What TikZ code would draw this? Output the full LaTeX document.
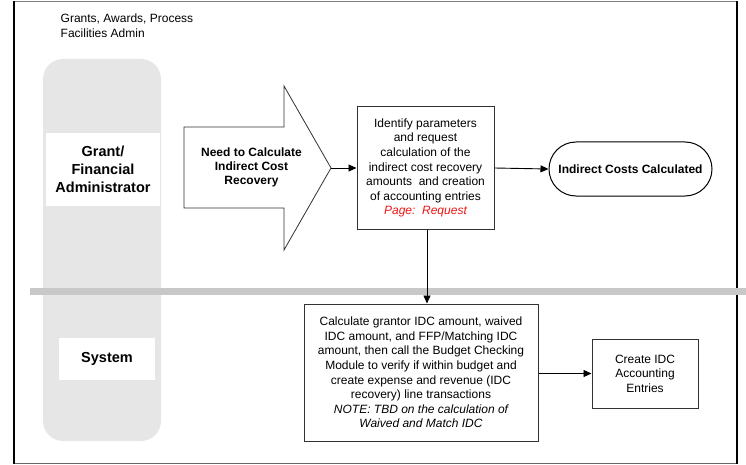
\documentclass[tikz,border=0pt]{standalone}
\usepackage{fontspec}
\setmainfont{Liberation Sans}
\usetikzlibrary{arrows.meta}
\definecolor{lanefill}{RGB}{230,230,230}
\definecolor{bandgray}{RGB}{200,200,200}
\definecolor{boxline}{RGB}{50,50,50}
\definecolor{pagered}{RGB}{240,20,20}
\begin{document}
\begin{tikzpicture}[x=1pt,y=-1pt,
  txt/.style={font=\fontsize{12}{14.6}\selectfont, align=center, inner sep=0pt},
  laneLabel/.style={fill=white, font=\fontsize{14.5}{18.3}\selectfont\bfseries, align=center},
  procbox/.style={draw=boxline, line width=1pt, fill=white, txt},
  flow/.style={line width=0.9pt, -{Triangle[length=8pt,width=7pt]}}]
\useasboundingbox (0,0) rectangle (746,465);

% outer frame
\draw[gray, line width=1pt] (14,2) -- (737,2);
\draw[gray!80!black, line width=1pt] (14,463) -- (737,463);
\draw[black, line width=2pt] (14,1.5) -- (14,463.5);
\draw[black, line width=2pt] (737,1.5) -- (737,463.5);

% title
\node[txt, align=left, anchor=north west] (title) at (60.5,14)
  {Grants, Awards, Process\\Facilities Admin};

% lane column and divider
\fill[lanefill, rounded corners=20pt] (43,59) rectangle (161,441);
\fill[bandgray] (30,288) rectangle (746,295);

% lane labels
\node[laneLabel, minimum width=114pt, minimum height=73pt, inner sep=0pt] (lane1) at (103,169.5)
  {Grant/\\Financial\\Administrator};
\node[laneLabel, minimum width=96pt, minimum height=42pt, inner sep=0pt] (lane2) at (107,359)
  {System};

% start event: block arrow
\draw[boxline, line width=0.8pt, fill=white]
  (184,127) -- (284,127) -- (284,86) -- (331,168) -- (284,250) -- (284,208) -- (184,208) -- cycle;
\coordinate (needtip) at (331,168);
\node[txt, font=\fontsize{12}{14.2}\selectfont\bfseries] (need) at (251.5,167.5)
  {Need to Calculate\\Indirect Cost\\Recovery};

% request step
\node[procbox, minimum width=137pt, minimum height=122pt] (ident) at (425.5,168)
  {Identify parameters\\and request\\calculation of the\\indirect cost recovery\\amounts\ \ and creation\\of accounting entries\\\textcolor{pagered}{\itshape Page:\ \ Request}};

% end event
\node[draw=black, line width=1pt, fill=white, rounded corners=27pt,
      minimum width=163pt, minimum height=54pt, txt, font=\fontsize{12}{14.6}\selectfont\bfseries] (done) at (630.5,169)
  {Indirect Costs Calculated};

% system steps
\node[procbox, minimum width=234pt, minimum height=137pt] (calc) at (421,372.5)
  {Calculate grantor IDC amount, waived\\IDC amount, and FFP/Matching IDC\\amount, then call the Budget Checking\\Module to verify if within budget and\\create expense and revenue (IDC\\recovery) line transactions\\{\itshape NOTE: TBD on the calculation of}\\{\itshape Waived and Match IDC}};
\node[procbox, minimum width=106pt, minimum height=69pt] (create) at (645,373.5)
  {Create IDC\\Accounting\\Entries};

% connectors
\draw[flow] (needtip) -- (ident.west);
\draw[flow] (ident.east) -- (done.west);
\draw[flow] ([xshift=1.5pt]ident.south) -- ([xshift=1.5pt]ident.south |- calc.north);
\draw[flow] (calc.east |- create.west) -- (create.west);
\end{tikzpicture}
\end{document}
